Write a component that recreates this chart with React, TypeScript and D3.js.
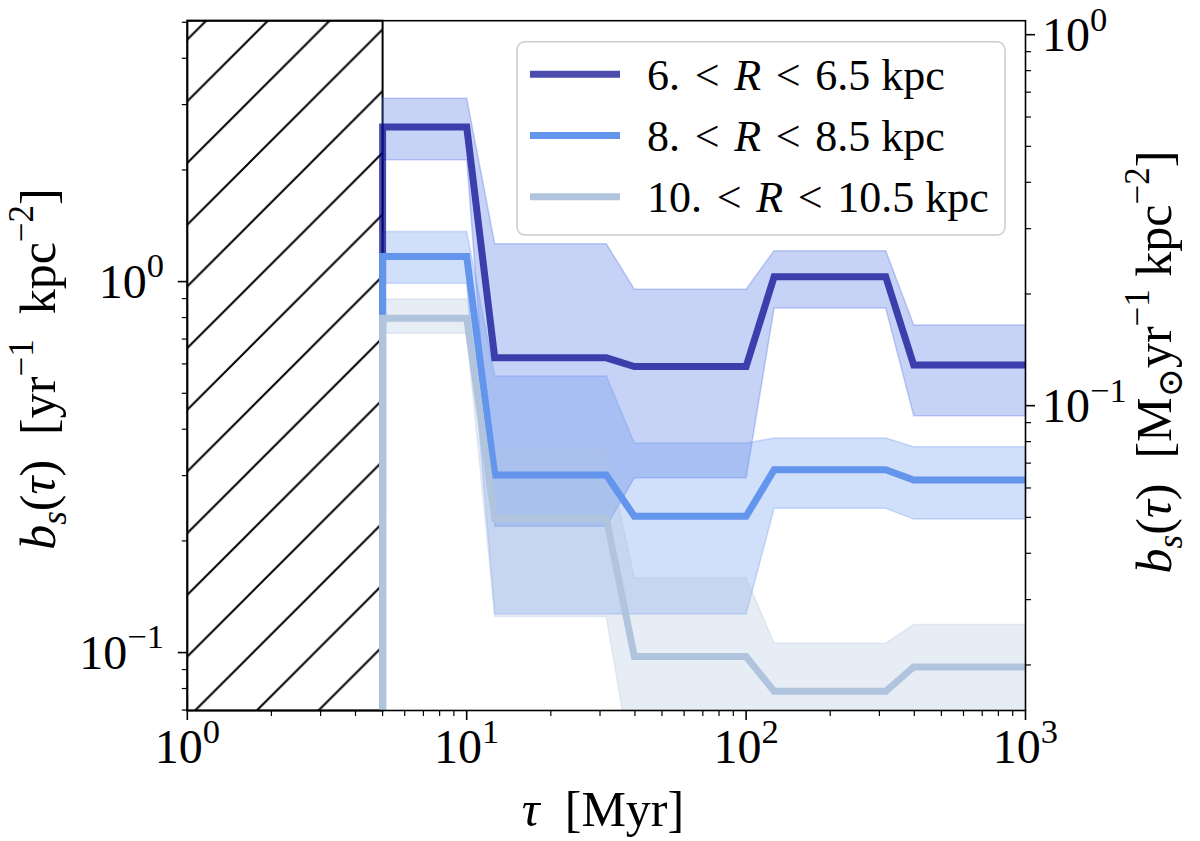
import { useEffect, useRef } from 'react';
import * as d3 from 'd3';

// bins in tau [Myr]: each bin is a flat segment from binStart to binEnd
const binStart = [5, 12.6, 39.8, 126, 398];
const binEnd = [10, 31.6, 100, 316, 1000];
const hatchTau = 5;

// 6 < R < 6.5 kpc
const medA = [2.61, 0.623, 0.59, 1.031, 0.596];
const upA = [3.12, 1.264, 0.954, 1.212, 0.764];
const loA = [2.13, 0.219, 0.296, 0.849, 0.435];

// 8 < R < 8.5 kpc
const medB = [1.168, 0.301, 0.233, 0.311, 0.292];
const upB = [1.364, 0.557, 0.367, 0.379, 0.359];
const loB = [0.99, 0.127, 0.127, 0.245, 0.229];

// 10 < R < 10.5 kpc
const medC = [0.797, 0.23, 0.0976, 0.0786, 0.0915];
const upC = [0.897, 0.352, 0.159, 0.106, 0.119];
const loC = [0.726, 0.125, 0.045, 0.04, 0.045];

const rLow = ['6.', '8.', '10.'];
const rHigh = ['6.5', '8.5', '10.5'];
const lineColors = ['darkblue', 'cornflowerblue', 'lightsteelblue'];
const lineAlpha = [0.7, 1, 1];
const bandColors = ['royalblue', 'cornflowerblue', 'lightsteelblue'];

const massFactor = 4.63; // left / right axis conversion
const yDomain = [0.0698, 5.05];
const xDomain = [1, 1000];
const xMajors = [1, 10, 100, 1000];
const yMajors = [0.1, 1];
const y2Majors = [0.1, 1];

const FONT = "'Liberation Serif', 'Times New Roman', 'DejaVu Serif', serif";

type Part = { t: string; it?: boolean; shift?: number; scale?: number };

function rich(sel: d3.Selection<SVGTextElement, unknown, null, undefined>, parts: Part[], fs: number) {
  let cur = 0;
  parts.forEach(p => {
    const sh = p.shift ?? 0;
    sel.append('tspan')
      .attr('dy', (cur - sh) * fs)
      .attr('font-size', fs * (p.scale ?? 1))
      .attr('font-style', p.it ? 'italic' : 'normal')
      .text(p.t);
    cur = sh;
  });
}

function minorTicks(lo: number, hi: number) {
  const out: number[] = [];
  for (let e = -3; e <= 3; e++) {
    for (let k = 2; k <= 9; k++) {
      const v = k * Math.pow(10, e);
      if (v >= lo * 0.999 && v <= hi * 1.001) out.push(v);
    }
  }
  return out;
}

function powLabel(v: number): Part[] {
  const e = Math.round(Math.log10(v));
  return [{ t: '10' }, { t: e < 0 ? '\u2212' + -e : String(e), shift: 0.42, scale: 0.72 }];
}

export default function App() {
  const ref = useRef<SVGSVGElement>(null);

  useEffect(() => {
    if (!ref.current) return;
    const svg = d3.select(ref.current);
    svg.selectAll('*').remove();

    const m = { left: 187.3, right: 1025.5, top: 20.7, bottom: 710.5 };
    const x = d3.scaleLog().domain(xDomain).range([m.left, m.right]);
    const y = d3.scaleLog().domain(yDomain).range([m.bottom, m.top]);
    const y2 = d3.scaleLog().domain([yDomain[0] / massFactor, yDomain[1] / massFactor]).range([m.bottom, m.top]);

    const defs = svg.append('defs');
    defs.append('clipPath').attr('id', 'plotclip').append('rect')
      .attr('x', m.left).attr('y', m.top).attr('width', m.right - m.left).attr('height', m.bottom - m.top);

    const hs = 61.7;
    const pat = defs.append('pattern').attr('id', 'hatch').attr('patternUnits', 'userSpaceOnUse')
      .attr('x', m.left).attr('y', 286.4).attr('width', hs).attr('height', hs);
    pat.append('path')
      .attr('d', `M0,${hs} L${hs},0 M${-hs / 2},${hs / 2} L${hs / 2},${-hs / 2} M${hs / 2},${1.5 * hs} L${1.5 * hs},${hs / 2}`)
      .attr('stroke', '#000').attr('stroke-width', 2);

    svg.append('rect').attr('width', 1200).attr('height', 841).attr('fill', '#fff');

    // hatched region tau < 5 Myr
    svg.append('rect')
      .attr('x', x(xDomain[0])).attr('y', m.top)
      .attr('width', x(hatchTau) - x(xDomain[0])).attr('height', m.bottom - m.top)
      .attr('fill', 'url(#hatch)').attr('stroke', '#000').attr('stroke-width', 2);

    const plot = svg.append('g').attr('clip-path', 'url(#plotclip)');

    const meds = [medA, medB, medC];
    const ups = [upA, upB, upC];
    const los = [loA, loB, loC];

    type BP = { t: number; lo: number; hi: number };
    const area = d3.area<BP>().x(d => x(d.t)).y0(d => y(d.lo)).y1(d => y(d.hi));
    meds.forEach((_, s) => {
      const pts: BP[] = [];
      binStart.forEach((t0, i) => {
        pts.push({ t: t0, lo: los[s][i], hi: ups[s][i] });
        pts.push({ t: binEnd[i], lo: los[s][i], hi: ups[s][i] });
      });
      plot.append('path').attr('d', area(pts) as string)
        .attr('fill', bandColors[s]).attr('fill-opacity', 0.3)
        .attr('stroke', bandColors[s]).attr('stroke-opacity', 0.3).attr('stroke-width', 1.5);
    });

    const line = d3.line<[number, number]>().x(d => x(d[0])).y(d => y(d[1]));
    meds.forEach((vals, s) => {
      const pts: [number, number][] = [[binStart[0], 1e-3]];
      binStart.forEach((t0, i) => {
        pts.push([t0, vals[i]]);
        pts.push([binEnd[i], vals[i]]);
      });
      plot.append('path').attr('d', line(pts) as string)
        .attr('fill', 'none').attr('stroke', lineColors[s]).attr('stroke-opacity', lineAlpha[s])
        .attr('stroke-width', 7).attr('stroke-linejoin', 'miter');
    });

    // spines
    svg.append('rect').attr('x', m.left).attr('y', m.top)
      .attr('width', m.right - m.left).attr('height', m.bottom - m.top)
      .attr('fill', 'none').attr('stroke', '#000').attr('stroke-width', 1.6);

    const tickG = svg.append('g').attr('stroke', '#000');
    const tickFs = 48;

    // bottom axis
    xMajors.forEach(v => {
      tickG.append('line').attr('x1', x(v)).attr('x2', x(v)).attr('y1', m.bottom).attr('y2', m.bottom + 9.5).attr('stroke-width', 1.6);
      const t = svg.append('text').attr('x', x(v)).attr('y', 763).attr('text-anchor', 'middle')
        .attr('font-family', FONT).attr('fill', '#000');
      rich(t, powLabel(v), tickFs);
    });
    minorTicks(xDomain[0], xDomain[1]).forEach(v => {
      tickG.append('line').attr('x1', x(v)).attr('x2', x(v)).attr('y1', m.bottom).attr('y2', m.bottom + 5.5).attr('stroke-width', 1.2);
    });

    // left axis
    yMajors.forEach(v => {
      tickG.append('line').attr('x1', m.left - 9.5).attr('x2', m.left).attr('y1', y(v)).attr('y2', y(v)).attr('stroke-width', 1.6);
      const t = svg.append('text').attr('x', 164).attr('y', y(v) + 16).attr('text-anchor', 'end')
        .attr('font-family', FONT).attr('fill', '#000');
      rich(t, powLabel(v), tickFs);
    });
    minorTicks(yDomain[0], yDomain[1]).forEach(v => {
      tickG.append('line').attr('x1', m.left - 5.5).attr('x2', m.left).attr('y1', y(v)).attr('y2', y(v)).attr('stroke-width', 1.2);
    });

    // right axis
    const d2 = y2.domain();
    y2Majors.forEach(v => {
      tickG.append('line').attr('x1', m.right).attr('x2', m.right + 9.5).attr('y1', y2(v)).attr('y2', y2(v)).attr('stroke-width', 1.6);
      const t = svg.append('text').attr('x', 1042).attr('y', y2(v) + 16).attr('text-anchor', 'start')
        .attr('font-family', FONT).attr('fill', '#000');
      rich(t, powLabel(v), tickFs);
    });
    minorTicks(d2[0], d2[1]).forEach(v => {
      tickG.append('line').attr('x1', m.right).attr('x2', m.right + 5.5).attr('y1', y2(v)).attr('y2', y2(v)).attr('stroke-width', 1.2);
    });

    // axis labels
    const labFs = 50;
    const xl = svg.append('text').attr('x', 603).attr('y', 826).attr('text-anchor', 'middle')
      .attr('font-family', FONT).style('white-space', 'pre');
    rich(xl, [{ t: '\u03c4', it: true }, { t: '  [Myr]' }], labFs);

    const yl = svg.append('text').attr('transform', 'translate(55,369) rotate(-90)').attr('text-anchor', 'middle')
      .attr('font-family', FONT).style('white-space', 'pre');
    rich(yl, [
      { t: 'b', it: true }, { t: 's', it: true, shift: -0.22, scale: 0.7 }, { t: '(' }, { t: '\u03c4', it: true }, { t: ')  [yr' },
      { t: '\u22121', shift: 0.45, scale: 0.7 }, { t: '  kpc' }, { t: '\u22122', shift: 0.45, scale: 0.7 }, { t: ']' },
    ], labFs);

    const yr = svg.append('text').attr('transform', 'translate(1171,362) rotate(-90)').attr('text-anchor', 'middle')
      .attr('font-family', FONT).style('white-space', 'pre');
    rich(yr, [
      { t: 'b', it: true }, { t: 's', it: true, shift: -0.22, scale: 0.7 }, { t: '(' }, { t: '\u03c4', it: true }, { t: ')  [M' },
      { t: '\u2299', shift: -0.22, scale: 0.7 }, { t: 'yr' },
      { t: '\u22121', shift: 0.45, scale: 0.7 }, { t: ' kpc' }, { t: '\u22122', shift: 0.45, scale: 0.7 }, { t: ']' },
    ], labFs);

    // legend
    const lg = svg.append('g');
    lg.append('rect').attr('x', 517).attr('y', 41.7).attr('width', 488).attr('height', 193.3).attr('rx', 8)
      .attr('fill', '#fff').attr('fill-opacity', 0.8).attr('stroke', '#cccccc').attr('stroke-width', 1.5);
    const lt = ' \u200a<\u200a ';
    rLow.forEach((r, i) => {
      const by = 90 + i * 61.2;
      lg.append('line').attr('x1', 530).attr('x2', 620).attr('y1', by - 15.7).attr('y2', by - 15.7)
        .attr('stroke', lineColors[i]).attr('stroke-opacity', lineAlpha[i]).attr('stroke-width', 7);
      const t = lg.append('text').attr('x', 647).attr('y', by).attr('font-family', FONT).style('white-space', 'pre');
      rich(t, [{ t: r + lt }, { t: 'R', it: true }, { t: lt + rHigh[i] + ' kpc' }], 44);
    });
  }, []);

  return (
    <svg ref={ref} width={1200} height={841} style={{ position: 'absolute', left: 0, top: 0, background: '#fff' }} />
  );
}
